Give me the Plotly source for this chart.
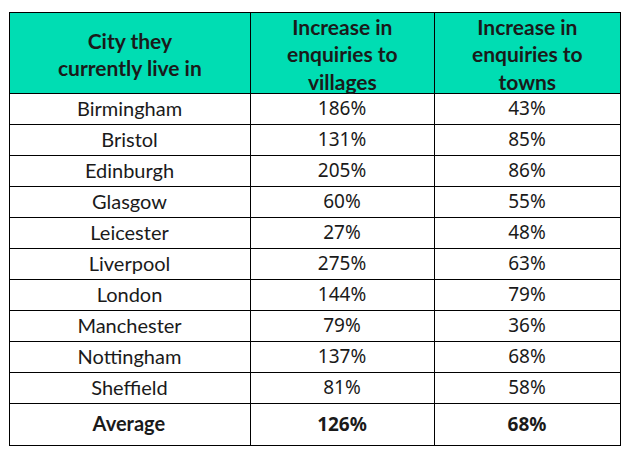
import plotly.graph_objects as go

# ---------- data ----------
HEADERS = [
    "City they<br>currently live in",
    "Increase in<br>enquiries to<br>villages",
    "Increase in<br>enquiries to<br>towns",
]
CITIES = ["Birmingham", "Bristol", "Edinburgh", "Glasgow", "Leicester",
          "Liverpool", "London", "Manchester", "Nottingham", "Sheffield"]
VILLAGES = [186, 131, 205, 60, 27, 275, 144, 79, 137, 81]
TOWNS = [43, 85, 86, 55, 48, 63, 79, 36, 68, 58]
AVG_VILLAGES = 126
AVG_TOWNS = 68

col_city = CITIES + ["<b>Average</b>"]
col_vil = [f"{v}%" for v in VILLAGES] + [f"<b>{AVG_VILLAGES}%</b>"]
col_town = [f"{v}%" for v in TOWNS] + [f"<b>{AVG_TOWNS}%</b>"]

# ---------- style ----------
TEAL = "#00DDB3"
COL_W = [241, 184, 186]
HEAD_H = 81
ROW_H = 31
PLOT_H = 440
CITY_FONT = "Lato, sans-serif"
NUM_FONT = "Noto Sans, sans-serif"

fig = go.Figure(go.Table(
    columnwidth=COL_W,
    header=dict(
        values=["", "", ""],
        fill_color=TEAL,
        line=dict(color="#000000", width=1),
        height=HEAD_H,
    ),
    cells=dict(
        values=[col_city, col_vil, col_town],
        fill_color="#ffffff",
        line=dict(color="#000000", width=1),
        align="center",
        height=ROW_H,
        font=dict(family=[CITY_FONT, NUM_FONT, NUM_FONT], size=[20, 19, 19], color="#1a1a1a"),
    ),
))

# header text centred line by line (table header left-aligns <br> lines)
total_w = sum(COL_W)
left = 0
for text, w in zip(HEADERS, COL_W):
    fig.add_annotation(
        x=(left + w / 2) / total_w, y=1 - (HEAD_H / 2 + 1) / PLOT_H,
        xref="paper", yref="paper",
        text=f"<b>{text}</b>", showarrow=False, align="center",
        xanchor="center", yanchor="middle",
        font=dict(family=CITY_FONT, size=21, color="#1a1a1a"),
    )
    left += w

fig.update_layout(
    width=631, height=453,
    margin=dict(l=1, r=19, t=4, b=453 - 4 - PLOT_H),
    paper_bgcolor="#ffffff",
)

fig.write_html("out.html")
